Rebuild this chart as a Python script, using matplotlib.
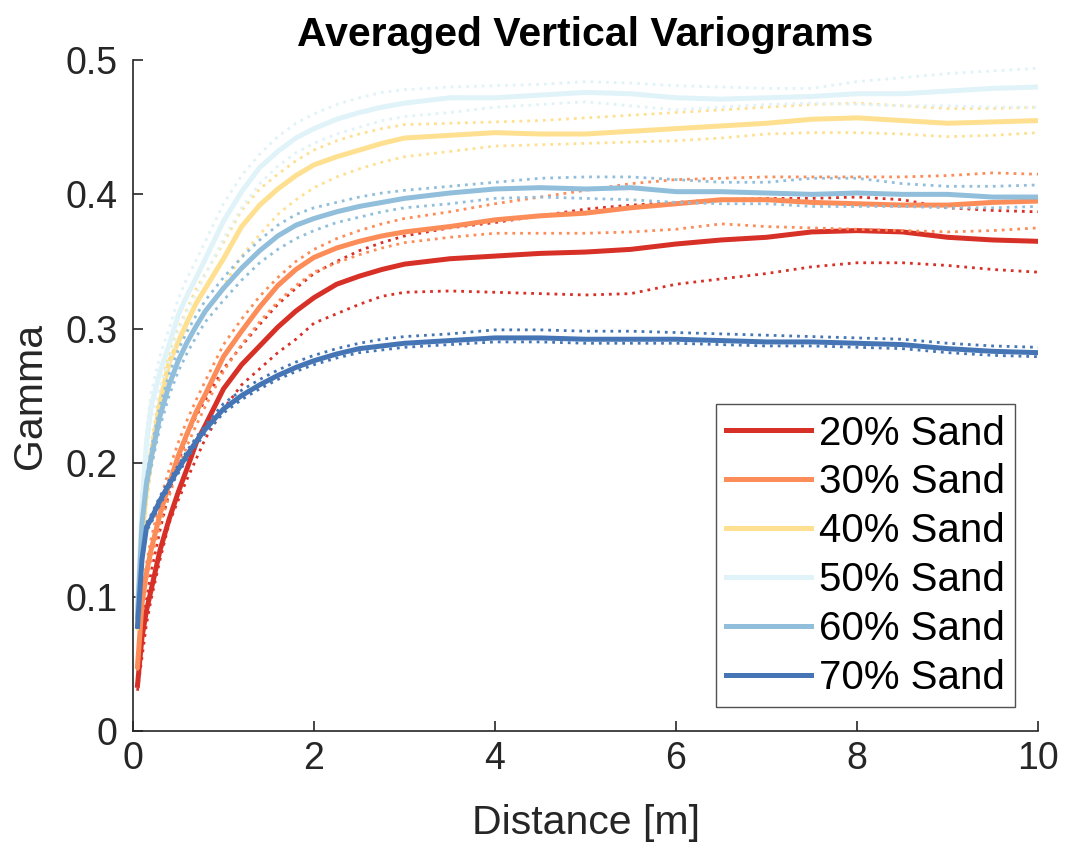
import numpy as np
import matplotlib
matplotlib.use('Agg')
import matplotlib.pyplot as plt

plt.rcParams['font.family'] = ['Liberation Sans', 'DejaVu Sans']

# lag distances (m), shared by all curves
dist = [0.05, 0.1, 0.15, 0.2, 0.3, 0.4, 0.5, 0.6, 0.7, 0.8, 1.0, 1.2, 1.4, 1.6, 1.8,
        2.0, 2.25, 2.5, 2.75, 3.0, 3.5, 4.0, 4.5, 5.0, 5.5, 6.0, 6.5, 7.0, 7.5, 8.0,
        8.5, 9.0, 9.5, 10.0]

labels = ['20% Sand', '30% Sand', '40% Sand', '50% Sand', '60% Sand', '70% Sand']
colors = ['#d73027', '#fc8d59', '#fee090', '#e0f3f8', '#91bfdb', '#4575b4']

# mean variograms
g20 = [0.034, 0.07, 0.09, 0.105, 0.135, 0.158, 0.178, 0.196, 0.215, 0.228, 0.255, 0.273,
       0.287, 0.301, 0.313, 0.323, 0.333, 0.339, 0.344, 0.348, 0.352, 0.354, 0.356, 0.357,
       0.359, 0.363, 0.366, 0.368, 0.372, 0.373, 0.372, 0.368, 0.366, 0.365]
g30 = [0.048, 0.095, 0.118, 0.135, 0.162, 0.184, 0.205, 0.222, 0.238, 0.251, 0.279, 0.298,
       0.316, 0.332, 0.344, 0.353, 0.36, 0.365, 0.369, 0.372, 0.376, 0.381, 0.384, 0.386,
       0.39, 0.393, 0.396, 0.396, 0.394, 0.393, 0.392, 0.392, 0.394, 0.395]
g40 = [0.08, 0.145, 0.18, 0.205, 0.245, 0.275, 0.29, 0.305, 0.319, 0.33, 0.352, 0.376,
       0.392, 0.404, 0.414, 0.422, 0.428, 0.433, 0.438, 0.442, 0.444, 0.446, 0.445, 0.445,
       0.447, 0.449, 0.451, 0.453, 0.456, 0.457, 0.455, 0.453, 0.454, 0.455]
g50 = [0.09, 0.17, 0.215, 0.242, 0.268, 0.288, 0.31, 0.325, 0.338, 0.352, 0.38, 0.402,
       0.42, 0.432, 0.442, 0.449, 0.456, 0.461, 0.465, 0.468, 0.472, 0.472, 0.474, 0.476,
       0.475, 0.472, 0.471, 0.472, 0.473, 0.475, 0.475, 0.477, 0.479, 0.48]
g60 = [0.085, 0.155, 0.185, 0.203, 0.235, 0.258, 0.276, 0.29, 0.302, 0.313, 0.33, 0.345,
       0.358, 0.369, 0.377, 0.382, 0.387, 0.391, 0.394, 0.397, 0.401, 0.404, 0.405, 0.404,
       0.405, 0.402, 0.402, 0.401, 0.4, 0.401, 0.4, 0.4, 0.398, 0.398]
g70 = [0.078, 0.128, 0.152, 0.158, 0.172, 0.184, 0.195, 0.206, 0.216, 0.225, 0.24, 0.25,
       0.258, 0.265, 0.271, 0.276, 0.281, 0.285, 0.287, 0.289, 0.291, 0.293, 0.293, 0.292,
       0.292, 0.292, 0.291, 0.29, 0.29, 0.289, 0.288, 0.285, 0.283, 0.282]

# upper envelopes (dotted)
u20 = [0.04, 0.08, 0.098, 0.118, 0.15, 0.178, 0.2, 0.22, 0.235, 0.247, 0.27, 0.287,
       0.303, 0.318, 0.33, 0.341, 0.35, 0.358, 0.364, 0.369, 0.375, 0.379, 0.384, 0.389,
       0.392, 0.394, 0.396, 0.397, 0.397, 0.398, 0.396, 0.39, 0.388, 0.387]
u30 = [0.05, 0.1, 0.125, 0.143, 0.172, 0.195, 0.215, 0.232, 0.247, 0.261, 0.288, 0.307,
       0.324, 0.338, 0.35, 0.359, 0.367, 0.373, 0.378, 0.382, 0.387, 0.393, 0.398, 0.403,
       0.408, 0.411, 0.412, 0.413, 0.413, 0.413, 0.413, 0.414, 0.416, 0.415]
u40 = [0.085, 0.15, 0.186, 0.213, 0.253, 0.283, 0.3, 0.315, 0.33, 0.341, 0.364, 0.388,
       0.404, 0.415, 0.425, 0.433, 0.44, 0.445, 0.449, 0.452, 0.453, 0.454, 0.455, 0.457,
       0.459, 0.461, 0.463, 0.465, 0.467, 0.468, 0.466, 0.464, 0.464, 0.465]
u50 = [0.095, 0.178, 0.225, 0.252, 0.28, 0.3, 0.322, 0.338, 0.351, 0.365, 0.393, 0.414,
       0.43, 0.443, 0.453, 0.46, 0.467, 0.472, 0.476, 0.478, 0.48, 0.481, 0.482, 0.484,
       0.483, 0.481, 0.48, 0.479, 0.479, 0.484, 0.487, 0.49, 0.492, 0.494]
u60 = [0.088, 0.16, 0.19, 0.21, 0.243, 0.266, 0.284, 0.298, 0.31, 0.321, 0.338, 0.353,
       0.366, 0.377, 0.385, 0.39, 0.394, 0.398, 0.401, 0.403, 0.406, 0.409, 0.412, 0.413,
       0.413, 0.411, 0.409, 0.409, 0.412, 0.412, 0.408, 0.406, 0.406, 0.407]
u70 = [0.08, 0.131, 0.155, 0.161, 0.175, 0.187, 0.198, 0.209, 0.219, 0.228, 0.244, 0.254,
       0.262, 0.269, 0.275, 0.28, 0.285, 0.289, 0.292, 0.294, 0.296, 0.299, 0.299, 0.298,
       0.298, 0.297, 0.296, 0.295, 0.294, 0.293, 0.292, 0.289, 0.287, 0.286]

# lower envelopes (dotted)
l20 = [0.03, 0.055, 0.08, 0.098, 0.128, 0.155, 0.172, 0.188, 0.203, 0.218, 0.24, 0.258,
       0.27, 0.282, 0.292, 0.304, 0.311, 0.318, 0.324, 0.327, 0.328, 0.327, 0.326, 0.325,
       0.326, 0.333, 0.337, 0.341, 0.346, 0.349, 0.349, 0.347, 0.344, 0.342]
l30 = [0.045, 0.09, 0.112, 0.128, 0.154, 0.175, 0.196, 0.213, 0.228, 0.242, 0.268, 0.288,
       0.305, 0.32, 0.332, 0.342, 0.349, 0.355, 0.36, 0.364, 0.368, 0.371, 0.371, 0.371,
       0.372, 0.374, 0.378, 0.376, 0.375, 0.374, 0.373, 0.372, 0.373, 0.375]
l40 = [0.075, 0.135, 0.17, 0.195, 0.232, 0.258, 0.275, 0.289, 0.302, 0.312, 0.332, 0.354,
       0.37, 0.385, 0.396, 0.405, 0.413, 0.419, 0.424, 0.428, 0.432, 0.436, 0.437, 0.438,
       0.439, 0.44, 0.442, 0.445, 0.446, 0.446, 0.445, 0.443, 0.444, 0.446]
l50 = [0.085, 0.162, 0.205, 0.232, 0.256, 0.276, 0.298, 0.313, 0.326, 0.34, 0.367, 0.39,
       0.408, 0.421, 0.431, 0.438, 0.445, 0.45, 0.455, 0.458, 0.461, 0.465, 0.467, 0.469,
       0.466, 0.463, 0.465, 0.467, 0.468, 0.467, 0.466, 0.466, 0.465, 0.465]
l60 = [0.082, 0.15, 0.18, 0.196, 0.227, 0.25, 0.268, 0.282, 0.294, 0.305, 0.321, 0.336,
       0.349, 0.359, 0.367, 0.373, 0.379, 0.383, 0.387, 0.39, 0.393, 0.397, 0.398, 0.397,
       0.396, 0.394, 0.393, 0.393, 0.391, 0.391, 0.391, 0.39, 0.39, 0.391]
l70 = [0.076, 0.125, 0.149, 0.155, 0.169, 0.181, 0.192, 0.203, 0.213, 0.222, 0.237, 0.247,
       0.255, 0.262, 0.268, 0.273, 0.278, 0.282, 0.284, 0.286, 0.288, 0.29, 0.29, 0.289,
       0.289, 0.289, 0.288, 0.287, 0.287, 0.286, 0.285, 0.282, 0.28, 0.279]

means = [g20, g30, g40, g50, g60, g70]
uppers = [u20, u30, u40, u50, u60, u70]
lowers = [l20, l30, l40, l50, l60, l70]

fig = plt.figure(figsize=(10.68, 8.48), dpi=100)
ax = fig.add_axes([0.1245, 0.138, 0.8475, 0.791])

handles = []
for m, u, lo, c, lab in zip(means, uppers, lowers, colors, labels):
    ax.plot(dist, u, color=c, lw=2.0, ls=(0, (1, 1.8)))
    ax.plot(dist, lo, color=c, lw=2.0, ls=(0, (1, 1.8)))
    h, = ax.plot(dist, m, color=c, lw=3.6, label=lab)
    handles.append(h)

ax.set_xlim(0, 10)
ax.set_ylim(0, 0.5)
ax.set_xticks([0, 2, 4, 6, 8, 10])
ax.set_yticks([0, 0.1, 0.2, 0.3, 0.4, 0.5])
ax.set_yticklabels(['0', '0.1', '0.2', '0.3', '0.4', '0.5'])
ax.tick_params(direction='in', length=7, width=1.2, labelsize=27, colors='#262626')
ax.tick_params(axis='x', pad=7)
ax.tick_params(axis='y', pad=11)
for s in ['top', 'right']:
    ax.spines[s].set_visible(False)
for s in ['left', 'bottom']:
    ax.spines[s].set_color('#262626')
    ax.spines[s].set_linewidth(1.2)

ax.set_xlabel('Distance [m]', fontsize=29.5, color='#262626', labelpad=20)
ax.set_ylabel('Gamma', fontsize=29.5, color='#262626', labelpad=12)
ax.set_title('Averaged Vertical Variograms', fontsize=29.5, fontweight='bold', pad=10)

leg = ax.legend(handles=handles, loc='lower right', bbox_to_anchor=(0.9746, 0.0358),
                borderaxespad=0, fontsize=29, frameon=True, fancybox=False,
                edgecolor='#262626', handlelength=2.1, handletextpad=0.2,
                labelspacing=0.27, borderpad=0.25)
leg.get_frame().set_linewidth(1.0)
for line in leg.get_lines():
    line.set_linewidth(3.6)

fig.savefig('out.png', dpi=100)
